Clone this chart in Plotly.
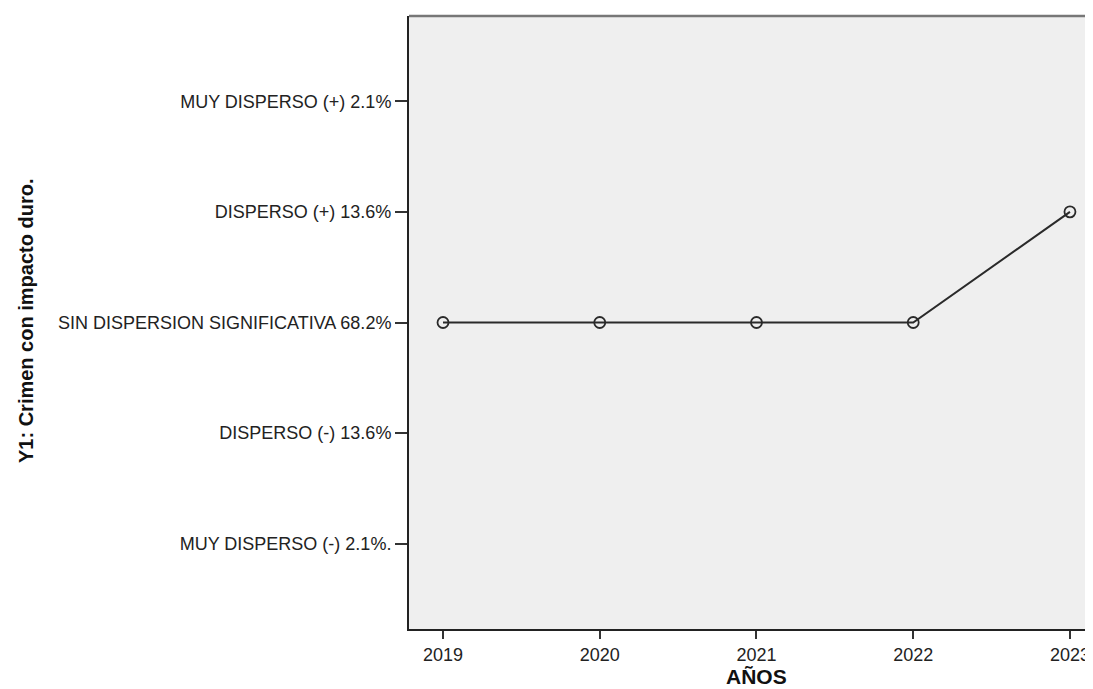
import plotly.graph_objects as go

years = [2019, 2020, 2021, 2022, 2023]
levels = [3, 3, 3, 3, 4]  # index into category list (1 = lowest)
cat_vals = [1, 2, 3, 4, 5]
cat_labels = [
    "MUY DISPERSO (-) 2.1%.",
    "DISPERSO (-) 13.6%",
    "SIN DISPERSION SIGNIFICATIVA 68.2%",
    "DISPERSO (+) 13.6%",
    "MUY DISPERSO (+) 2.1%",
]

fig = go.Figure()
fig.add_trace(go.Scatter(
    x=years, y=levels, mode="lines+markers",
    line=dict(color="#2a2a2a", width=2),
    marker=dict(symbol="circle-open", size=11, color="#2a2a2a", line=dict(width=1.8)),
    showlegend=False, cliponaxis=False,
))

fig.update_layout(
    width=1085, height=681,
    margin=dict(l=401, r=0, t=8, b=60),
    paper_bgcolor="white", plot_bgcolor="#EFEFEF",
    font=dict(family="Liberation Sans, Arial, sans-serif", size=18, color="#222222"),
    xaxis=dict(
        range=[2019 - 0.217, 2023 + 0.147],
        tickvals=years, ticktext=[str(y) for y in years],
        showgrid=False, zeroline=False,
        showline=True, linecolor="#222222", linewidth=2,
        ticks="outside", ticklen=8, tickwidth=2.2, tickcolor="#333333",
        tickfont=dict(size=18, color="#222222"),
    ),
    yaxis=dict(
        range=[1 - 0.77, 5 + 0.77],
        tickvals=cat_vals, ticktext=cat_labels,
        showgrid=False, zeroline=False,
        showline=True, linecolor="#222222", linewidth=2,
        ticks="outside", ticklen=12, tickwidth=2.2, tickcolor="#333333",
        tickfont=dict(size=18, color="#222222"),
    ),
    shapes=[dict(type="line", xref="paper", yref="paper", x0=0, x1=1, y0=1, y1=1,
                 line=dict(color="#777777", width=2.5))],
    annotations=[
        dict(text="<b>AÑOS</b>", xref="x", yref="paper", x=2021, y=0, yshift=-47,
             xanchor="center", yanchor="middle",
             showarrow=False, font=dict(size=21, color="#111111")),
        dict(text="<b>Y1: Crimen con impacto duro.</b>", xref="paper", yref="paper",
             x=0, xshift=-383, y=0.5024, xanchor="center", yanchor="middle",
             textangle=-90, showarrow=False,
             font=dict(family="Liberation Sans, Arial", size=20, color="#111111")),
    ],
)

fig.write_html("out.html")
